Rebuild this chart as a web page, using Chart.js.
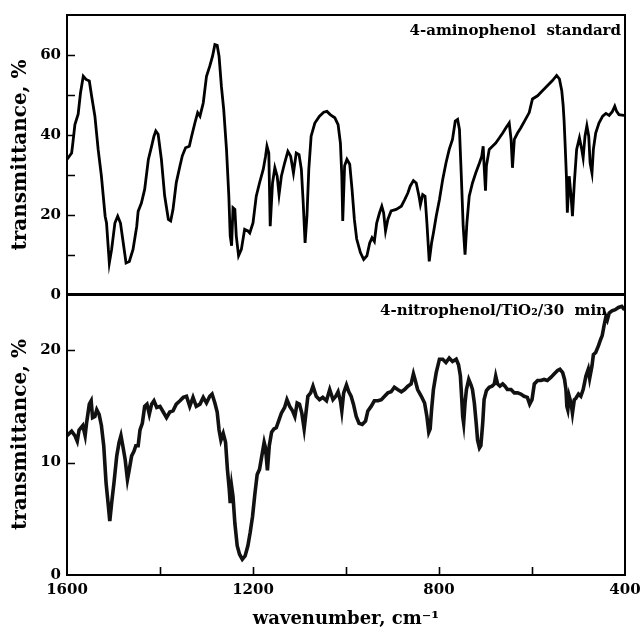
<!DOCTYPE html>
<html>
<head>
<meta charset="utf-8">
<script src="https://cdn.jsdelivr.net/npm/chart.js@4.4.1/dist/chart.umd.min.js"></script>
<style>
  html, body { margin: 0; padding: 0; background: #fff; }
  #wrap { position: relative; width: 642px; height: 634px; overflow: hidden; }
  .panel { position: absolute; left: 0; }
  #topPanel { top: 0; }
  #bottomPanel { top: 290px; }
</style>
</head>
<body>
<div id="wrap">
  <div class="panel" id="topPanel"><canvas id="topChart" width="642" height="300"></canvas></div>
  <div class="panel" id="bottomPanel"><canvas id="bottomChart" width="642" height="344"></canvas></div>
</div>
<script>
// IR spectra (wavenumber in cm-1, transmittance in %)
const topWavenumber = [
  1600, 1590, 1588, 1583, 1576, 1571, 1565, 1559, 1552, 1547, 1540, 1533, 1526, 1518, 1515, 1509,
  1504, 1497, 1491, 1485, 1479, 1473, 1466, 1458, 1450, 1447, 1440, 1433, 1425, 1418, 1413, 1409,
  1404, 1397, 1390, 1382, 1377, 1372, 1365, 1357, 1352, 1345, 1337, 1332, 1325, 1319, 1314, 1307,
  1300, 1293, 1287, 1282, 1277, 1273, 1268, 1263, 1257, 1252, 1249, 1246, 1243, 1239, 1236, 1231,
  1225, 1218, 1211, 1207, 1200, 1193, 1186, 1178, 1173, 1170, 1166, 1163, 1158, 1153, 1148, 1144,
  1139, 1132, 1125, 1119, 1113, 1107, 1101, 1096, 1092, 1088, 1084, 1080, 1075, 1067, 1057, 1048,
  1041, 1034, 1024, 1017, 1012, 1009, 1007, 1003, 998, 992, 987, 982, 977, 969, 962, 955,
  949, 944, 939, 934, 928, 923, 919, 915, 910, 903, 892, 881, 874, 867, 862, 855,
  849, 843, 840, 835, 830, 826, 821, 816, 812, 806, 799, 792, 785, 778, 771, 765,
  760, 756, 752, 748, 744, 740, 735, 728, 721, 713, 708, 705, 703, 700, 698, 692,
  685, 678, 670, 663, 656, 649, 645, 642, 638, 631, 624, 614, 606, 599, 588, 577,
  567, 556, 547, 541, 536, 533, 531, 529, 526, 524, 520, 516, 513, 509, 504, 498,
  493, 490, 486, 482, 478, 475, 471, 468, 463, 456, 448, 441, 434, 427, 422, 418,
  413, 403, 400
];
const topTransmittance = [
  33.9, 35.5, 37.4, 42.6, 45.2, 50.5, 54.7, 53.9, 53.5, 49.7, 44.7, 36.4, 29.7, 19.7, 18.0, 8.0,
  11.4, 18.0, 19.7, 18.0, 13.0, 8.0, 8.4, 11.4, 17.2, 20.9, 23.0, 26.4, 33.9, 37.2, 39.7, 41.0,
  40.2, 33.9, 24.8, 18.9, 18.5, 21.4, 28.1, 32.3, 34.8, 36.8, 37.2, 39.7, 43.0, 45.6, 44.7, 48.0,
  54.7, 57.2, 59.7, 62.6, 62.4, 59.7, 52.2, 46.4, 36.4, 24.8, 14.8, 12.3, 21.8, 21.4, 14.8, 9.8,
  11.4, 16.4, 16.0, 15.5, 18.0, 24.7, 28.0, 31.4, 34.7, 37.2, 35.5, 17.2, 28.0, 31.8, 29.7, 25.1,
  29.7, 33.0, 35.9, 34.7, 30.5, 35.5, 35.1, 31.4, 23.0, 13.0, 19.7, 31.4, 39.7, 43.0, 44.7, 45.7,
  45.9, 45.1, 44.3, 42.6, 38.0, 29.7, 18.5, 32.3, 33.9, 32.7, 26.4, 18.9, 14.0, 10.6, 8.9, 9.8,
  13.0, 14.3, 13.4, 18.0, 20.5, 22.2, 20.5, 16.0, 18.9, 21.0, 21.4, 22.2, 23.8, 25.5, 27.2, 28.6,
  28.0, 24.7, 22.6, 25.1, 24.7, 18.0, 8.4, 13.0, 15.5, 19.7, 23.9, 28.9, 33.0, 36.4, 38.9, 43.5,
  43.9, 41.4, 29.7, 17.2, 10.1, 18.0, 24.7, 28.0, 30.5, 33.0, 34.7, 37.2, 32.3, 26.1, 32.3, 36.4,
  37.2, 38.0, 39.3, 40.5, 41.8, 43.0, 38.9, 31.8, 38.9, 40.5, 41.8, 43.9, 45.6, 49.0, 49.8, 51.1,
  52.3, 53.6, 54.9, 54.0, 51.1, 47.4, 43.6, 38.3, 29.7, 20.6, 29.7, 24.7, 19.7, 28.0, 36.4, 39.3,
  36.4, 34.3, 39.7, 42.3, 39.7, 33.0, 30.5, 36.4, 40.5, 43.0, 44.7, 45.4, 44.9, 45.9, 47.2, 45.9,
  45.1, 44.9, 44.9
];

const bottomWavenumber = [
  1600, 1590, 1583, 1578, 1574, 1566, 1561, 1558, 1552, 1548, 1545, 1540, 1536, 1531, 1526, 1521,
  1516, 1511, 1508, 1504, 1499, 1493, 1488, 1484, 1480, 1475, 1470, 1466, 1461, 1456, 1452, 1447,
  1443, 1438, 1433, 1428, 1423, 1418, 1413, 1407, 1400, 1393, 1386, 1379, 1372, 1365, 1357, 1350,
  1343, 1336, 1329, 1322, 1314, 1307, 1300, 1293, 1288, 1282, 1277, 1273, 1269, 1264, 1259, 1255,
  1251, 1249, 1246, 1243, 1239, 1234, 1229, 1223, 1217, 1211, 1206, 1201, 1196, 1191, 1186, 1181,
  1176, 1173, 1169, 1165, 1160, 1155, 1150, 1144, 1139, 1132, 1127, 1121, 1115, 1110, 1105, 1100,
  1095, 1090, 1087, 1082, 1076, 1071, 1064, 1057, 1050, 1042, 1035, 1028, 1022, 1017, 1012, 1009,
  1005, 999, 994, 989, 984, 978, 972, 965, 958, 953, 946, 939, 931, 924, 917, 910,
  903, 896, 889, 881, 874, 867, 860, 855, 851, 846, 838, 831, 826, 822, 819, 816,
  812, 806, 799, 792, 785, 778, 771, 763, 758, 754, 751, 749, 747, 744, 741, 736,
  731, 728, 724, 720, 717, 713, 710, 706, 703, 698, 692, 686, 681, 678, 674, 669,
  663, 658, 653, 645, 638, 631, 624, 617, 610, 605, 600, 595, 588, 581, 574, 567,
  559, 552, 545, 540, 534, 530, 527, 525, 523, 520, 516, 513, 509, 506, 500, 495,
  490, 484, 479, 476, 471, 468, 463, 457, 452, 449, 445, 441, 438, 434, 428, 421,
  414, 407, 401
];
const bottomTransmittance = [
  12.4, 12.8, 12.4, 11.9, 12.9, 13.3, 12.4, 13.5, 15.2, 15.5, 14.0, 14.1, 14.7, 14.3, 13.3, 11.5,
  8.2, 6.1, 4.8, 6.4, 8.2, 10.6, 11.8, 12.4, 11.5, 10.3, 8.5, 9.4, 10.6, 11.0, 11.5, 11.5,
  12.9, 13.5, 15.0, 15.2, 14.3, 15.2, 15.5, 14.9, 15.0, 14.5, 14.0, 14.5, 14.6, 15.2, 15.5, 15.8,
  15.9, 15.0, 15.8, 15.0, 15.2, 15.8, 15.3, 15.9, 16.1, 15.3, 14.5, 12.9, 12.0, 12.6, 11.8, 9.4,
  7.6, 6.4, 7.9, 7.0, 4.6, 2.6, 1.85, 1.4, 1.7, 2.6, 3.8, 5.2, 7.2, 8.95, 9.4, 10.6,
  11.8, 11.3, 9.3, 11.5, 12.7, 13.0, 13.1, 13.8, 14.4, 14.9, 15.6, 15.0, 14.6, 14.1, 15.3, 15.2,
  14.4, 13.0, 14.1, 15.9, 16.2, 16.8, 15.9, 15.6, 15.8, 15.5, 16.5, 15.6, 15.9, 16.3, 15.5, 14.6,
  16.2, 16.9, 16.3, 15.9, 15.2, 14.1, 13.5, 13.4, 13.7, 14.6, 15.0, 15.5, 15.5, 15.6, 15.9, 16.2,
  16.3, 16.7, 16.5, 16.3, 16.5, 16.8, 17.0, 17.9, 17.3, 16.5, 15.9, 15.3, 14.1, 12.7, 13.0, 14.7,
  16.5, 18.0, 19.2, 19.2, 18.9, 19.3, 19.0, 19.2, 18.7, 17.7, 15.6, 14.1, 13.5, 15.3, 16.5, 17.4,
  16.9, 16.5, 15.3, 13.5, 12.0, 11.3, 11.5, 13.5, 15.6, 16.4, 16.7, 16.8, 17.0, 17.7, 17.0, 16.8,
  17.0, 16.8, 16.5, 16.5, 16.2, 16.2, 16.1, 15.9, 15.8, 15.2, 15.6, 17.0, 17.3, 17.3, 17.4, 17.3,
  17.6, 17.9, 18.2, 18.3, 18.0, 17.4, 16.5, 15.0, 14.7, 15.9, 15.3, 14.4, 15.6, 15.7, 16.1, 15.9,
  16.5, 17.7, 18.3, 17.5, 18.6, 19.6, 19.8, 20.4, 21.0, 21.3, 22.2, 23.0, 22.7, 23.3, 23.5, 23.6,
  23.8, 23.9, 23.6
];

const xTickLabels = [1600, 1200, 800, 400];
const xMinorTicks = [1400, 1200, 1000, 800, 600];
const topYTicks = [10, 20, 30, 40, 50, 60];
const bottomYTicks = [10, 20];
const panelLabels = ['4-aminophenol  standard', '4-nitrophenol/TiO\u2082/30  min'];

const FONT = '"DejaVu Serif", "Liberation Serif", serif';

// draws the box, inward ticks and the panel caption
const framePlugin = {
  id: 'frame',
  afterDraw(chart, args, opts) {
    const { ctx, chartArea: a, scales } = chart;
    ctx.save();
    ctx.strokeStyle = '#000';
    ctx.lineWidth = 2;
    ctx.strokeRect(a.left, a.top, a.right - a.left, a.bottom - a.top);
    ctx.lineWidth = 1.6;
    ctx.beginPath();
    opts.yTicks.forEach(v => {
      const y = Math.round(scales.y.getPixelForValue(v)) + 0.5;
      ctx.moveTo(a.left, y);
      ctx.lineTo(a.left + 8, y);
    });
    opts.xTicks.forEach(v => {
      const x = Math.round(scales.x.getPixelForValue(v)) + 0.5;
      ctx.moveTo(x, a.bottom);
      ctx.lineTo(x, a.bottom - 8);
    });
    ctx.stroke();
    ctx.fillStyle = '#000';
    ctx.font = 'bold 15px ' + FONT;
    ctx.textAlign = 'right';
    ctx.textBaseline = 'middle';
    ctx.fillText(opts.label, a.right - opts.labelRight, a.top + opts.labelTop);
    ctx.restore();
  }
};

function makeChart(id, xs, ys, cfg) {
  const points = xs.map((w, i) => ({ x: w, y: ys[i] }));
  return new Chart(document.getElementById(id), {
    type: 'line',
    data: {
      datasets: [{
        data: points,
        borderColor: cfg.lineColor,
        borderWidth: cfg.lineWidth,
        pointRadius: 0,
        tension: 0,
        fill: false
      }]
    },
    options: {
      responsive: false,
      animation: false,
      events: [],
      layout: { padding: cfg.padding },
      plugins: {
        legend: { display: false },
        tooltip: { enabled: false },
        frame: cfg.frame
      },
      scales: {
        x: {
          type: 'linear',
          min: 400,
          max: 1600,
          reverse: true,
          display: cfg.showX,
          grid: { display: false, drawTicks: false },
          border: { display: false },
          ticks: {
            stepSize: 400,
            padding: 6,
            color: '#000',
            font: { family: FONT, size: 15, weight: 'bold' },
            callback: v => xTickLabels.includes(v) ? String(v) : ''
          },
          title: {
            display: true,
            text: 'wavenumber, cm\u207B\u00B9',
            color: '#000',
            font: { family: FONT, size: 18, weight: 'bold' },
            padding: { top: 0, bottom: 4 }
          },
          afterFit: s => {
            s.height = cfg.showX ? 59 : 0;
            s.paddingLeft = 0;
            s.paddingRight = 0;
          }
        },
        y: {
          min: 0,
          max: cfg.yMax,
          grid: { display: false, drawTicks: false },
          border: { display: false },
          ticks: {
            stepSize: cfg.yStep,
            includeBounds: false,
            padding: 6,
            color: '#000',
            font: { family: FONT, size: 15, weight: 'bold' }
          },
          title: {
            display: true,
            text: 'transmittance, %',
            color: '#000',
            font: { family: FONT, size: 20, weight: 'bold' },
            padding: { top: 9, bottom: 0 }
          },
          afterFit: s => { s.width = 67; s.paddingTop = 0; s.paddingBottom = 0; }
        }
      }
    },
    plugins: [framePlugin]
  });
}

makeChart('topChart', topWavenumber, topTransmittance, {
  lineColor: '#000',
  lineWidth: 2.8,
  padding: { top: 15, right: 17, bottom: 5, left: 0 },
  showX: false,
  yMax: 70,
  yStep: 20,
  frame: { yTicks: topYTicks, xTicks: [], label: panelLabels[0], labelRight: 4, labelTop: 16 }
});

makeChart('bottomChart', bottomWavenumber, bottomTransmittance, {
  lineColor: '#111',
  lineWidth: 3.6,
  padding: { top: 4, right: 17, bottom: 0, left: 0 },
  showX: true,
  yMax: 25,
  yStep: 10,
  frame: { yTicks: bottomYTicks, xTicks: xMinorTicks, label: panelLabels[1], labelRight: 18, labelTop: 17 }
});
</script>
</body>
</html>
